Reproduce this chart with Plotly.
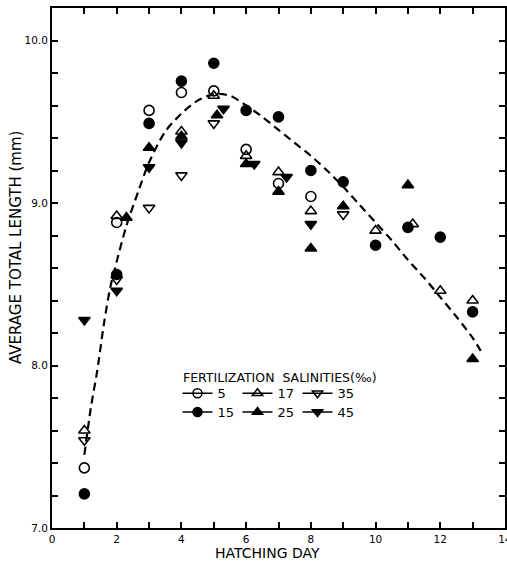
import plotly.graph_objects as go

# ---- data ----
days_5 = [1, 2, 3, 4, 5, 6, 7, 8]
len_5 = [7.37, 8.88, 9.57, 9.68, 9.69, 9.33, 9.12, 9.04]

days_15 = [1, 2, 3, 4, 5, 6, 7, 8, 9, 10, 11, 12, 13]
len_15 = [7.21, 8.56, 9.49, 9.75, 9.86, 9.57, 9.53, 9.20, 9.13, 8.74, 8.85, 8.79, 8.33]

days_17 = [1, 2, 4, 5, 6, 7, 8, 10, 11.15, 12, 13]
len_17 = [7.60, 8.92, 9.44, 9.66, 9.29, 9.19, 8.95, 8.83, 8.87, 8.46, 8.40]

days_25 = [2.3, 3, 4, 5.1, 6, 7, 8, 9, 11, 13]
len_25 = [8.91, 9.34, 9.41, 9.54, 9.24, 9.07, 8.72, 8.98, 9.11, 8.04]

days_35 = [1, 2, 3, 4, 5, 9]
len_35 = [7.54, 8.53, 8.97, 9.17, 9.49, 8.93]

days_45 = [1, 2, 3, 4, 5.3, 6.25, 7.25, 8]
len_45 = [8.28, 8.46, 9.22, 9.37, 9.58, 9.24, 9.16, 8.87]

curve_x = [1.0, 1.2, 1.4, 1.6, 1.8, 2.0, 2.3, 2.7, 3.0, 3.5, 4.0, 4.5, 5.0, 5.5,
           6.0, 6.5, 7.0, 7.5, 8.0, 8.5, 9.0, 9.5, 10.0, 10.5, 11.0, 11.5, 12.0,
           12.5, 13.0, 13.25]
curve_y = [7.45, 7.74, 7.97, 8.25, 8.48, 8.64, 8.86, 9.09, 9.25, 9.44, 9.55, 9.63,
           9.67, 9.66, 9.60, 9.53, 9.45, 9.37, 9.29, 9.20, 9.10, 8.99, 8.88, 8.77,
           8.65, 8.54, 8.42, 8.30, 8.17, 8.09]

series_names = ["5", "17", "35", "15", "25", "45"]
x_tick_vals = list(range(0, 15))
x_tick_text = ["0", "", "2", "", "4", "", "6", "", "8", "", "10", "", "12", "", "14"]
y_tick_vals = [7.0, 7.2, 7.4, 7.6, 7.8, 8.0, 8.2, 8.4, 8.6, 8.8, 9.0, 9.2, 9.4,
               9.6, 9.8, 10.0, 10.2]
y_tick_text = ["7.0", "", "", "", "", "8.0", "", "", "", "", "9.0", "", "", "",
               "", "10.0", ""]

legend_title = "FERTILIZATION  SALINITIES(‰)"
x_title = "HATCHING DAY"
y_title = "AVERAGE TOTAL LENGTH (mm)"

FONT = "DejaVu Sans"
MS = 10

fig = go.Figure()

# fitted curve
fig.add_trace(go.Scatter(x=curve_x, y=curve_y, mode="lines",
                         line=dict(color="black", width=2.2, dash="8px,5px",
                                   shape="spline", smoothing=0.8),
                         showlegend=False, hoverinfo="skip"))

series = {
    "5": (days_5, len_5, "circle-open"),
    "15": (days_15, len_15, "circle"),
    "17": (days_17, len_17, "triangle-up-open"),
    "25": (days_25, len_25, "triangle-up"),
    "35": (days_35, len_35, "triangle-down-open"),
    "45": (days_45, len_45, "triangle-down"),
}

for name in ["35", "45", "25", "17", "15", "5"]:
    xs, ys, sym = series[name]
    fig.add_trace(go.Scatter(x=xs, y=ys, mode="markers", name=name,
                             marker=dict(symbol=sym, size=MS, color="black",
                                         line=dict(color="black", width=1.6)),
                             showlegend=False))

# legend entries (two rows)
for i, name in enumerate(series_names):
    _, _, sym = series[name]
    fig.add_trace(go.Scatter(x=[None], y=[None], mode="lines+markers", name=name,
                             line=dict(color="black", width=1.5),
                             marker=dict(symbol=sym, size=9, color="black",
                                         line=dict(color="black", width=1.5)),
                             legend="legend" if i < 3 else "legend2"))

leg_common = dict(orientation="h", xanchor="left", yanchor="middle",
                  bgcolor="rgba(0,0,0,0)", borderwidth=0,
                  font=dict(family=FONT, size=13, color="black"),
                  entrywidth=15, entrywidthmode="pixels", itemwidth=30,
                  tracegroupgap=0)

axis_common = dict(showgrid=False, zeroline=False, showline=True, linecolor="black",
                   linewidth=2, ticks="inside", ticklen=6, tickwidth=1.5,
                   tickcolor="black", mirror="ticks", ticklabeloverflow="allow",
                   automargin=False,
                   tickfont=dict(family=FONT, size=10.5, color="black"))

fig.update_layout(
    width=507, height=561,
    margin=dict(l=52, r=2, t=8, b=33, autoexpand=False),
    paper_bgcolor="white", plot_bgcolor="white",
    font=dict(family=FONT, color="black"),
    xaxis=dict(range=[0, 14], tickmode="array", tickvals=x_tick_vals,
               ticktext=x_tick_text, **axis_common),
    yaxis=dict(range=[7.0, 10.2], tickmode="array", tickvals=y_tick_vals,
               ticktext=y_tick_text, **axis_common),
    legend=dict(x=0.277, y=0.259, **leg_common),
    legend2=dict(x=0.277, y=0.223, **leg_common),
    annotations=[
        dict(text=legend_title, xref="paper", yref="paper", x=0.285, y=0.290,
             xanchor="left", yanchor="middle", showarrow=False,
             font=dict(family=FONT, size=12.5, color="black")),
        dict(text=x_title, xref="paper", yref="paper",
             x=(267.5 - 52) / 453, y=(528 - 553) / 520,
             xanchor="center", yanchor="middle", showarrow=False,
             font=dict(family=FONT, size=14, color="black")),
        dict(text=y_title, xref="paper", yref="paper",
             x=(16 - 52) / 453, y=(528 - 248) / 520, textangle=-90,
             xanchor="center", yanchor="middle", showarrow=False,
             font=dict(family=FONT, size=15, color="black")),
    ],
)

fig.write_html("out.html", config={"displayModeBar": False},
               post_script="document.body.style.margin='0';document.body.style.overflow='hidden';")
